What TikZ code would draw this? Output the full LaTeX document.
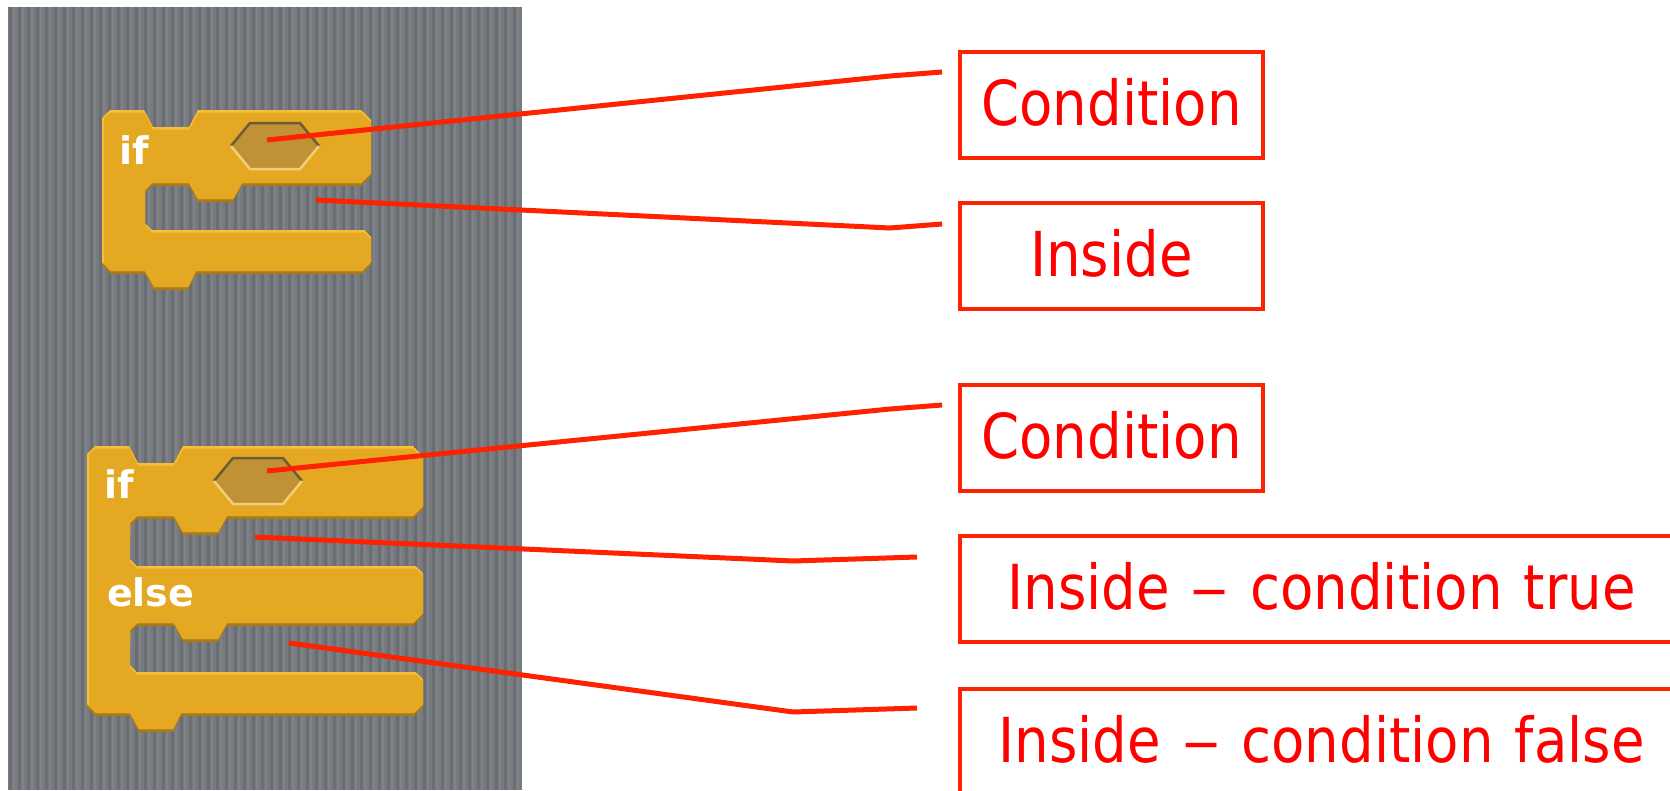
\documentclass[tikz,border=0pt]{standalone}
\usepackage{fontspec}
\setmainfont{DejaVu Sans}[FakeStretch=0.88, WordSpace=1.22]
\newfontfamily\blkfont{DejaVu Sans}
\definecolor{panel}{HTML}{777B7F}
\definecolor{stripeD}{HTML}{6A6E72}
\definecolor{stripeL}{HTML}{7F8387}
\definecolor{gold}{HTML}{E5A823}
\definecolor{goldhl}{HTML}{F8BE34}
\definecolor{goldsh}{HTML}{A97B17}
\definecolor{hexfill}{HTML}{BF9235}
\definecolor{hexdark}{HTML}{6E5C38}
\definecolor{hexlight}{HTML}{F4CD78}
\definecolor{leader}{HTML}{FF2200}
\definecolor{labeltxt}{HTML}{FF0000}
\newcommand\longdash{\scalebox{1.4}[1]{--}}
\tikzset{
  labelbox/.style={draw=leader, line width=4.5pt, fill=white, text=labeltxt,
    font=\fontsize{62}{64}\selectfont, minimum height=106pt, inner sep=0pt,
    text height=45pt, text depth=4pt},
  leaderline/.style={draw=leader, line width=5pt},
  blktext/.style={text=white, font=\blkfont\bfseries\fontsize{38}{40}\selectfont, inner sep=0pt, anchor=base west},
  hexedge/.style={line width=2.5pt}
}
\newcommand\blockApath{(102,118) -- (110,110) -- (144,110) -- (153,127) -- (189,127) -- (198,110) -- (361,110) -- (371,120) -- (371,176) -- (361,186) -- (242,186) -- (233,202) -- (198,202) -- (189,186) -- (152,186) -- (145,193) -- (145,223) -- (152,230) -- (364,230) -- (371,237) -- (371,265) -- (362,274) -- (196,274) -- (188,290) -- (154,290) -- (145,274) -- (111,274) -- (102,265) -- cycle}
\newcommand\blockBpath{(87,454) -- (95,446) -- (129,446) -- (138,463) -- (174,463) -- (183,446) -- (413,446) -- (423,456) -- (423,509) -- (413,519) -- (227,519) -- (218,535) -- (183,535) -- (174,519) -- (137,519) -- (130,526) -- (130,559) -- (137,566) -- (416,566) -- (423,573) -- (423,616) -- (413,626) -- (227,626) -- (218,642) -- (183,642) -- (174,626) -- (137,626) -- (130,633) -- (130,665) -- (137,672) -- (416,672) -- (423,679) -- (423,707) -- (414,716) -- (181,716) -- (173,732) -- (139,732) -- (130,716) -- (96,716) -- (87,707) -- cycle}
\newcommand\drawblock[1]{%
  \begin{scope}
    \clip #1;
    \fill[goldsh] #1;
    \begin{scope}
      \clip[shift={(0,-3)}] #1;
      \fill[goldhl] #1;
      \clip[shift={(0,2.5)}] #1;
      \clip[shift={(2,0)}] #1;
      \fill[gold] #1;
    \end{scope}
  \end{scope}}
\newcommand\drawhex[2]{% left x, top y
  \fill[hexfill] (#1,#2+24) -- (#1+20,#2) -- (#1+70,#2) -- (#1+90,#2+24) -- (#1+70,#2+48) -- (#1+20,#2+48) -- cycle;
  \draw[hexedge, hexdark] (#1+1,#2+24) -- (#1+20,#2+1) -- (#1+70,#2+1) -- (#1+89,#2+24);
  \draw[hexedge, hexlight] (#1+1,#2+24) -- (#1+20,#2+47) -- (#1+70,#2+47) -- (#1+89,#2+24);
}
\begin{document}
\begin{tikzpicture}[x=1pt, y=-1pt]
\useasboundingbox (0,0) rectangle (1670,790);
\clip (0,0) rectangle (1670,790);
\fill[white] (0,0) rectangle (1670,790);
% scripting area
\fill[panel] (8,7) rectangle (522,790);
\foreach \i in {0,...,56} {
  \fill[stripeD] ({8+9*\i+1},7) rectangle ++(2.5,783);
  \fill[stripeL] ({8+9*\i+5},7) rectangle ++(2,783);
}
% blocks
\drawblock{\blockApath}
\drawblock{\blockBpath}
\drawhex{230}{122}
\drawhex{213}{457}
\node[blktext] (if1) at (119,164) {if};
\node[blktext] (if2) at (104,498) {if};
\node[blktext] (else2) at (107,606) {else};
% label boxes
\node[labelbox, minimum width=303pt] (cond1) at (1111.5,105) {Condition};
\node[labelbox, minimum width=303pt] (ins1) at (1111.5,256) {Inside};
\node[labelbox, minimum width=303pt] (cond2) at (1111.5,438) {Condition};
\node[labelbox, minimum width=723pt] (instrue) at (1321.5,589) {Inside \longdash{} condition true};
\node[labelbox, minimum width=723pt] (insfalse) at (1321.5,742) {Inside \longdash{} condition false};
% leader points
\coordinate (s1) at (267,140);  \coordinate (k1) at (890,76);  \coordinate (e1) at (942,72);
\coordinate (s2) at (316,200);  \coordinate (k2) at (890,228); \coordinate (e2) at (942,224);
\coordinate (s3) at (267,471);  \coordinate (k3) at (890,409); \coordinate (e3) at (942,405);
\coordinate (s4) at (255,537);  \coordinate (k4) at (793,561); \coordinate (e4) at (917,557);
\coordinate (s5) at (289,643);  \coordinate (k5) at (793,712); \coordinate (e5) at (917,708);
\draw[leaderline] (s1) -- (k1) -- (e1);
\draw[leaderline] (s2) -- (k2) -- (e2);
\draw[leaderline] (s3) -- (k3) -- (e3);
\draw[leaderline] (s4) -- (k4) -- (e4);
\draw[leaderline] (s5) -- (k5) -- (e5);
\end{tikzpicture}
\end{document}
